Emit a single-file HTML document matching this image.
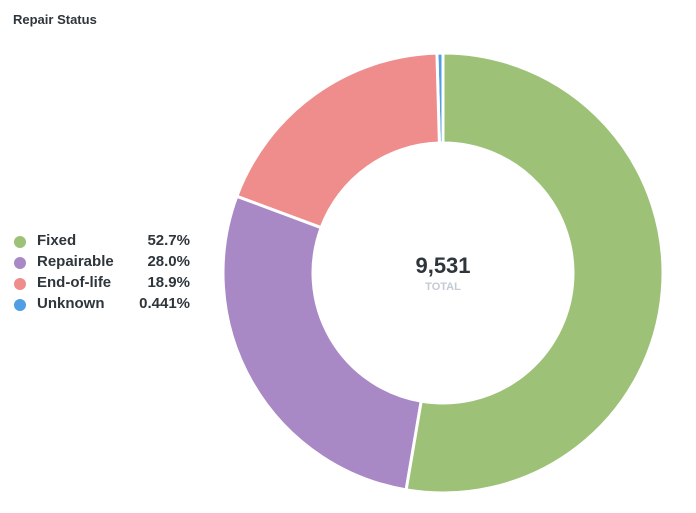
<!DOCTYPE html>
<html><head><meta charset="utf-8">
<style>
body{margin:0;background:#fff;font-family:"Liberation Sans",sans-serif;}
#wrap{position:relative;width:696px;height:513px;overflow:hidden;}
.title{position:absolute;left:13px;top:12px;font-size:13px;font-weight:bold;color:#2e353b;}
.leg{position:absolute;left:13px;width:177px;height:21px;font-size:15px;font-weight:bold;color:#2e353b;}
.leg .dot{position:absolute;left:1px;top:5px;width:12px;height:12px;border-radius:50%;}
.leg .lab{position:absolute;left:24px;top:1px;}
.leg .val{position:absolute;right:0;top:1px;}
</style></head><body>
<div id="wrap">
<div class="title">Repair Status</div>
<div id="legend"></div>
<svg id="chart" width="696" height="513" style="position:absolute;left:0;top:0">
<text x="443" y="273" text-anchor="middle" font-size="22" font-weight="bold" fill="#2e353b" font-family="Liberation Sans, sans-serif">9,531</text>
<text x="443" y="290" text-anchor="middle" font-size="11" font-weight="bold" fill="#c4cbd2" font-family="Liberation Sans, sans-serif">TOTAL</text>
</svg>
</div>
<script>
const categories=["Fixed","Repairable","End-of-life","Unknown"];
const values=[52.7,28.0,18.9,0.441];
const labels=["52.7%","28.0%","18.9%","0.441%"];
const colors=["#9cc177","#a989c5","#ef8c8c","#509ee3"];
const cx=443,cy=273,R=220,r=130;
const svg=document.getElementById('chart');
const total=values.reduce((a,b)=>a+b,0);
let a0=0;
function pt(rad,a){return [cx+rad*Math.sin(a),cy-rad*Math.cos(a)];}
values.forEach((v,i)=>{
  const a1=a0+v/total*Math.PI*2;
  const large=(a1-a0)>Math.PI?1:0;
  const p1=pt(R,a0),p2=pt(R,a1),p3=pt(r,a1),p4=pt(r,a0);
  const p=document.createElementNS('http://www.w3.org/2000/svg','path');
  p.setAttribute('d',`M${p1[0]},${p1[1]}A${R},${R} 0 ${large} 1 ${p2[0]},${p2[1]}L${p3[0]},${p3[1]}A${r},${r} 0 ${large} 0 ${p4[0]},${p4[1]}Z`);
  p.setAttribute('fill',colors[i]);
  p.setAttribute('stroke','#fff');
  p.setAttribute('stroke-width','3');
  
  
  svg.insertBefore(p,svg.firstChild);
  a0=a1;
});
const leg=document.getElementById('legend');
categories.forEach((c,i)=>{
  const d=document.createElement('div');
  d.className='leg';d.style.top=(231+i*21)+'px';
  
  
  d.innerHTML=`<span class="dot" style="background:${colors[i]}"></span><span class="lab">${c}</span><span class="val">${labels[i]}</span>`;
  leg.appendChild(d);
});
</script>
</body></html>
